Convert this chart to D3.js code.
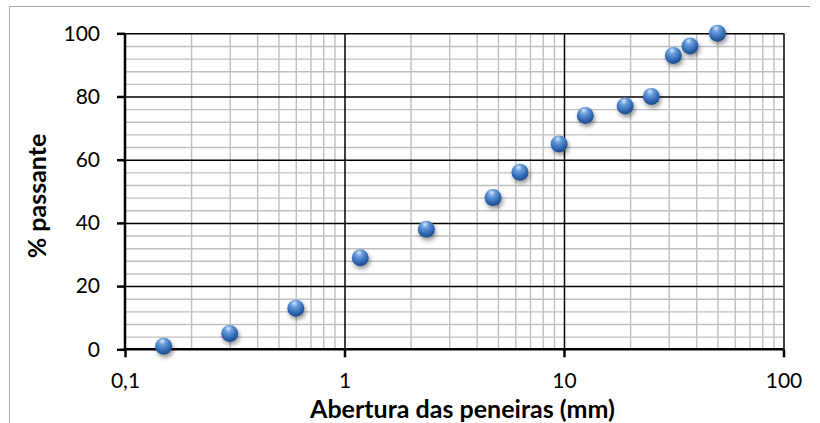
<!DOCTYPE html>
<html>
<head>
<meta charset="utf-8">
<script src="https://cdn.jsdelivr.net/npm/d3@7"></script>
<style>
  html, body { margin: 0; padding: 0; background: #fff; }
  svg { display: block; }
  text { font-family: Lato, "Open Sans", sans-serif; }
</style>
</head>
<body>
<svg id="chart" width="820" height="423"></svg>
<script>
// ---- data ----
const aberturas = [0.15, 0.3, 0.6, 1.18, 2.36, 4.75, 6.3, 9.5, 12.5, 19, 25, 31.5, 37.5, 50];
const passante  = [1, 5, 13, 29, 38, 48, 56, 65, 74, 77, 80, 93, 96, 100];
const xTicks = [0.1, 1, 10, 100];
const xTickLabels = ["0,1", "1", "10", "100"];
const yTicks = [0, 20, 40, 60, 80, 100];
const xTitle = "Abertura das peneiras (mm)";
const yTitle = "% passante";

(function () {
const W = 820, H = 423;
const svg = d3.select("#chart");
const pL = 125, pR = 783.5, pT = 33.3, pB = 349.3;

const x = d3.scaleLog().domain([0.1, 100]).range([pL, pR]);
const y = d3.scaleLinear().domain([0, 100]).range([pB, pT]);

// outer chart border
svg.append("path")
  .attr("d", `M9.5,${H + 5} L9.5,6.5 L810,6.5`)
  .attr("fill", "none").attr("stroke", "#a6a6a6").attr("stroke-width", 1);

// defs: gradient + shadow
const defs = svg.append("defs");
const grad = defs.append("radialGradient").attr("id", "ball")
  .attr("cx", "42%").attr("cy", "30%").attr("r", "72%").attr("fx", "42%").attr("fy", "20%");
grad.append("stop").attr("offset", "0%").attr("stop-color", "#d8e8fc");
grad.append("stop").attr("offset", "28%").attr("stop-color", "#6a9ddc");
grad.append("stop").attr("offset", "70%").attr("stop-color", "#3169b3");
grad.append("stop").attr("offset", "100%").attr("stop-color", "#1b4785");
const f = defs.append("filter").attr("id", "shadow").attr("x", "-50%").attr("y", "-50%").attr("width", "200%").attr("height", "200%");
f.append("feDropShadow").attr("dx", 1.5).attr("dy", 3).attr("stdDeviation", 2)
  .attr("flood-color", "#000").attr("flood-opacity", 0.4);

// minor grid values
const minorX = [];
[0.1, 1, 10].forEach(d => { for (let k = 2; k <= 9; k++) minorX.push(+(d * k).toPrecision(3)); });
const minorY = d3.range(4, 100, 4).filter(v => v % 20 !== 0);

const g = svg.append("g");

// minor gridlines
g.append("g").attr("transform", `translate(0,${pB})`)
  .call(d3.axisBottom(x).tickValues(minorX).tickSize(-(pB - pT)).tickFormat(""))
  .call(a => a.select(".domain").remove())
  .call(a => a.selectAll("line").attr("stroke", "#bfbfbf").attr("stroke-width", 1.4));
g.append("g").attr("transform", `translate(${pL},0)`)
  .call(d3.axisLeft(y).tickValues(minorY).tickSize(-(pR - pL)).tickFormat(""))
  .call(a => a.select(".domain").remove())
  .call(a => a.selectAll("line").attr("stroke", "#bfbfbf").attr("stroke-width", 1.4));

// major gridlines
g.append("g").attr("transform", `translate(0,${pB})`)
  .call(d3.axisBottom(x).tickValues(xTicks.slice(1)).tickSize(-(pB - pT)).tickFormat(""))
  .call(a => a.select(".domain").remove())
  .call(a => a.selectAll("line").attr("stroke", "#000").attr("stroke-width", 1.5));
g.append("g").attr("transform", `translate(${pL},0)`)
  .call(d3.axisLeft(y).tickValues(yTicks.slice(1)).tickSize(-(pR - pL)).tickFormat(""))
  .call(a => a.select(".domain").remove())
  .call(a => a.selectAll("line").attr("stroke", "#000").attr("stroke-width", 1.5));

// axes
const fmtX = d => xTickLabels[xTicks.indexOf(d)];
const xa = g.append("g").attr("transform", `translate(0,${pB})`)
  .call(d3.axisBottom(x).tickValues(xTicks).tickSize(8).tickPadding(16).tickFormat(fmtX));
xa.select(".domain").attr("stroke", "#000").attr("stroke-width", 2.5).attr("d", `M${pL},0H${pR}`);
xa.selectAll("line").attr("stroke", "#000").attr("stroke-width", 2.5);
xa.selectAll("text").attr("font-size", 21).attr("fill", "#000").attr("font-family", "Lato, sans-serif");

const ya = g.append("g").attr("transform", `translate(${pL},0)`)
  .call(d3.axisLeft(y).tickValues(yTicks).tickSize(8).tickPadding(17).tickFormat(d3.format("d")));
ya.select(".domain").attr("stroke", "#000").attr("stroke-width", 2.5).attr("d", `M0,${pB}V${pT}`);
ya.selectAll("line").attr("stroke", "#000").attr("stroke-width", 2.5);
ya.selectAll("text").attr("font-size", 21).attr("fill", "#000").attr("font-family", "Lato, sans-serif");

// titles
svg.append("text").attr("x", 462.5).attr("y", 417.5).attr("text-anchor", "middle")
  .attr("font-size", 25).attr("font-weight", "bold").attr("fill", "#000").text(xTitle);
svg.append("text").attr("transform", `translate(46,196) rotate(-90)`).attr("text-anchor", "middle")
  .attr("font-size", 25).attr("font-weight", "bold").attr("fill", "#000").text(yTitle);

// points
const pts = aberturas.map((a, i) => ({ a, p: passante[i] }));
svg.append("g").selectAll("circle").data(pts).join("circle")
  .attr("cx", d => x(d.a)).attr("cy", d => y(d.p)).attr("r", 8.5)
  .attr("fill", "url(#ball)").attr("filter", "url(#shadow)");
})();
</script>
</body>
</html>
